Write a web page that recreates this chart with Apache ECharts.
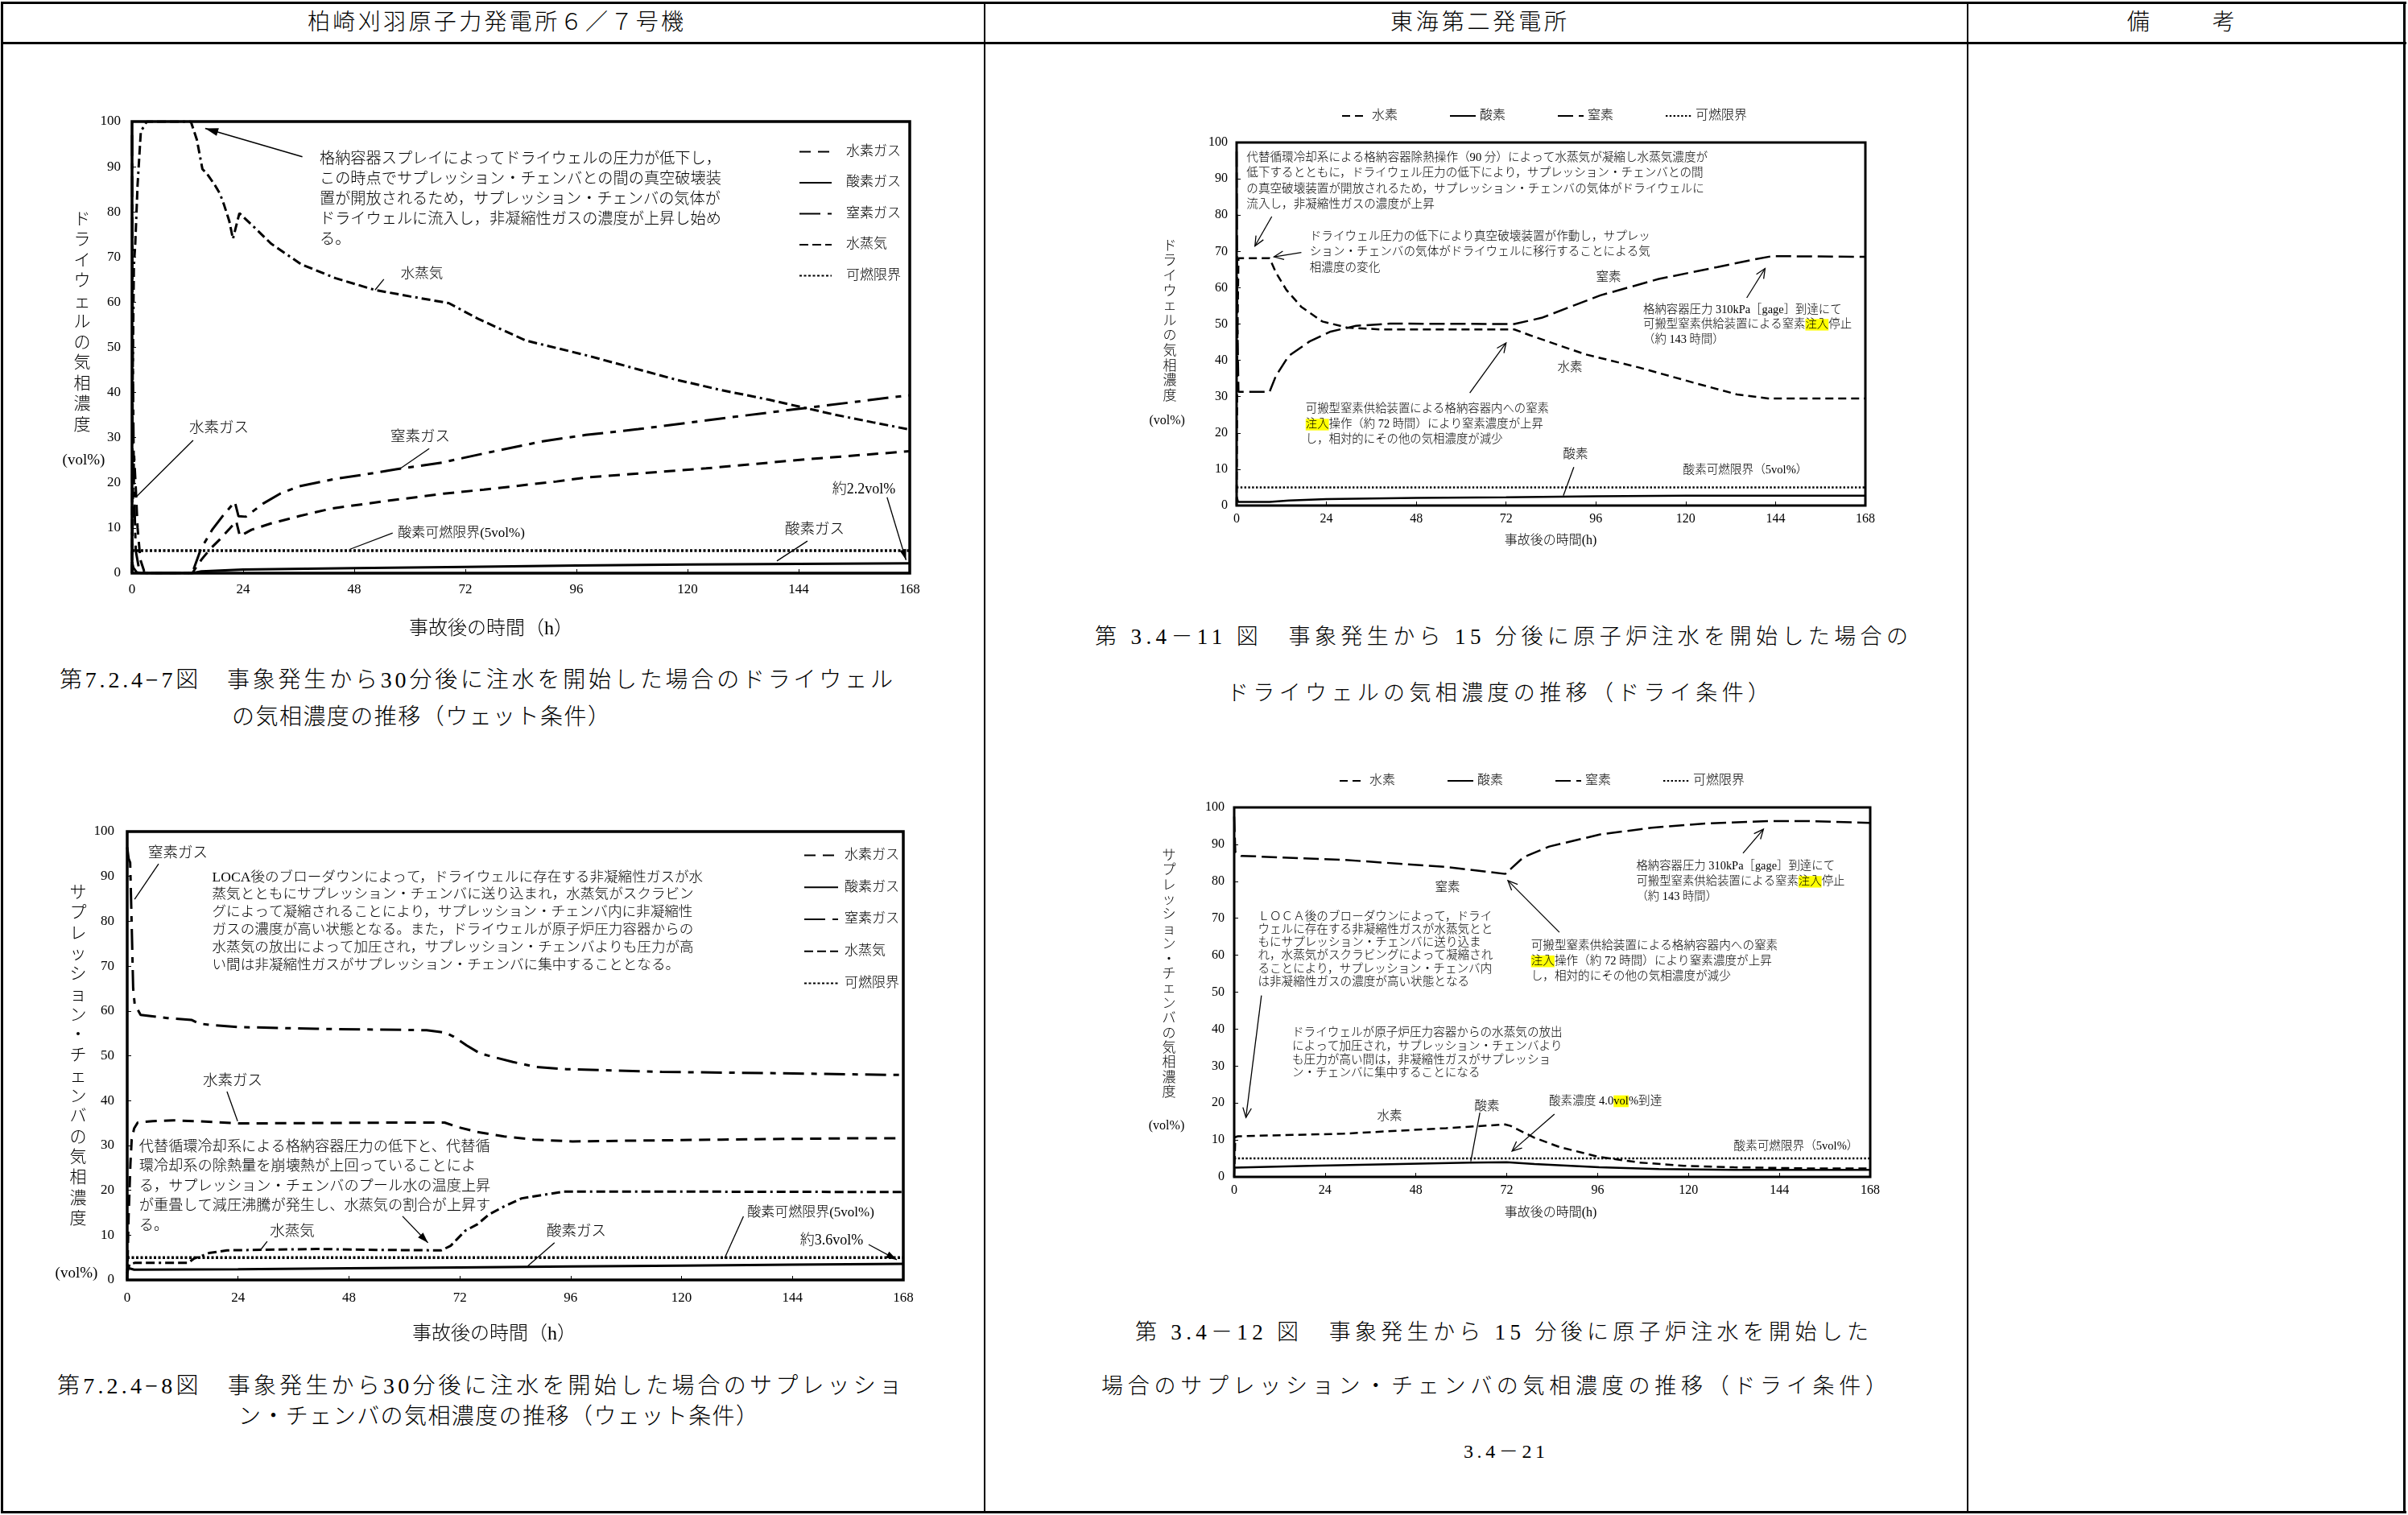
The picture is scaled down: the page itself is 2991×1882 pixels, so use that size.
<!DOCTYPE html>
<html lang="ja">
<head>
<meta charset="utf-8">
<title>ドライウェル及びサプレッション・チェンバの気相濃度の推移</title>
<script src="https://cdn.jsdelivr.net/npm/echarts@6/dist/echarts.min.js"></script>
<style>
  html, body { margin: 0; padding: 0; background: #fff; }
  #page { position: relative; width: 2991px; height: 1882px; overflow: hidden; color: #000;
          font-family: 'Liberation Serif', 'Noto Sans CJK JP', serif; }
  .layer { position: absolute; left: 0; top: 0; width: 2991px; height: 1882px; }
  .rule { position: absolute; background: #000; }
  .txt { position: absolute; white-space: nowrap; line-height: 1; transform: translateY(-50%); font-weight: 300; }
</style>
</head>
<body>
<div id="page">
  <div id="sheet" class="layer"></div>
  <div class="layer" id="chartA"></div>
  <div class="layer" id="chartB"></div>
  <div class="layer" id="chartC"></div>
  <div class="layer" id="chartD"></div>
</div>
<script>
// ---- axes ----
const HOUR_TICKS = [0, 24, 48, 72, 96, 120, 144, 168];
const PERCENT_TICKS = [0, 10, 20, 30, 40, 50, 60, 70, 80, 90, 100];
const FLAMMABLE_LIMIT = 5; // 酸素可燃限界 (vol%)

// ---- 柏崎刈羽6/7号機 ドライウェル（ウェット条件） [h, vol%] ----
const kkDwH2 = [[0,0],[0.2,18],[0.45,26],[0.8,19],[1.2,10],[1.8,3],[2.6,0.5],[4,0],[13,0],[15,3],[17,5.5],[19,7.5],[21.2,10],[22.5,11.5],[23.3,8.2],[25.8,9.6],[30,11],[36,12.6],[43,14.3],[55,16],[67.3,17.6],[76,18.5],[91.7,20.3],[98.3,21.2],[116,22.6],[124,23.2],[146.6,25.3],[158,26.2],[168,27]];
const kkDwO2 = [[0,2.5],[0.3,1.2],[1,0.2],[2,0],[13,0],[15,0.4],[24,0.8],[48,1.1],[72,1.4],[96,1.7],[120,1.9],[144,2.05],[168,2.2]];
const kkDwN2 = [[0,97],[0.15,50],[0.4,20],[0.8,5],[1.5,1],[3,0],[13,0],[14.9,5.4],[17.3,9.6],[19.7,12.8],[22.2,15.8],[23,12.6],[24.6,12.5],[28.3,15.4],[32,17.6],[36,19.2],[44,20.9],[50,21.8],[57,23],[67,24.5],[76,26.5],[88.7,29.2],[98,30.6],[109.4,31.9],[129.2,34.5],[143.4,36.3],[164.6,39],[168,39.4]];
const kkDwSteam = [[0,0],[0.15,45],[0.4,68],[0.7,73],[1.2,86],[1.9,97.8],[3.2,100],[12.7,100],[14,96],[15.2,89.5],[16.5,88],[17.9,85.9],[19,84],[19.8,81.8],[21,78],[21.8,74],[22.4,76.5],[23.2,79.7],[26,77],[30,73],[36.5,68.4],[44,65.3],[52.5,62.7],[60,61.3],[68.4,59.8],[75,56.2],[85.1,51.5],[98.3,48.2],[108,45.5],[117.7,42.8],[127,40.6],[137.6,38.4],[151.8,35.1],[160,33.4],[168,31.8]];

// ---- 柏崎刈羽6/7号機 サプレッション・チェンバ（ウェット条件） ----
const kkScH2 = [[0,0],[0.3,14],[0.7,26],[0.97,31.3],[1.5,33.8],[2.27,35.1],[5.5,35.4],[10,35.6],[15.2,35.4],[24.2,34.9],[41,35],[60.3,35.1],[68.7,35.1],[71.9,34],[75.8,33],[81.6,32],[88,31.3],[96.4,30.9],[128.6,31.3],[157.6,31.6],[168,31.6]];
const kkScO2 = [[0,3.5],[0.4,2.6],[1.5,2.3],[24,2.4],[48,2.6],[72,2.8],[96,3.0],[120,3.2],[144,3.4],[168,3.6]];
const kkScN2 = [[0,96.5],[0.3,94],[0.64,93.1],[1.0,78],[1.29,65],[1.62,61.5],[2.9,59.1],[8.7,58.4],[13.9,58],[15.5,57.2],[17.7,56.9],[24.2,56.4],[41,56],[64.8,55.7],[68.7,55.2],[70.6,54.3],[73.5,52.3],[76.4,50.5],[83.5,48.6],[88.6,47.5],[95.1,47],[115.7,46.4],[141.5,46.1],[168,45.7]];
const kkScSteam = [[0,1.5],[0.5,3.5],[1.6,3.8],[13.2,3.8],[14.5,4.8],[16.5,5.5],[17.7,6],[21.6,6.6],[41,6.9],[53.9,6.7],[68,6.6],[70,7.6],[73.2,11],[75.8,12.4],[78.3,14.6],[81.6,16.4],[85.4,18.2],[89.6,18.9],[94.4,19.7],[120,19.7],[168,19.6]];

// ---- 東海第二 ドライウェル（ドライ条件） ----
const tkDwH2 = [[0,0],[0.2,45],[0.5,68.1],[8.8,68.1],[10.5,64.2],[13.3,59.4],[17.3,54.7],[22.9,50.7],[29.6,49],[38.6,48.5],[74.2,48.5],[78.4,46.9],[93,41.7],[107.6,38],[123.3,33.5],[133.7,30.6],[142,29.5],[168,29.5]];
const tkDwO2 = [[0,2.5],[0.4,1.0],[8.8,1.0],[14,1.4],[24,1.8],[48,2.1],[72,2.3],[96,2.55],[120,2.7],[168,2.7]];
const tkDwN2 = [[0,97.5],[0.2,52],[0.5,31.3],[8.8,31.3],[10.5,35.7],[13.9,41.2],[19.5,45.2],[25.1,47.9],[31.9,49.5],[40.9,50.1],[74.2,50],[81.5,51.7],[97.2,57.9],[112.8,62.4],[128.5,65.7],[138.9,67.9],[143.1,68.7],[168,68.5]];

// ---- 東海第二 サプレッション・チェンバ（ドライ条件） ----
const tkScH2 = [[0,0],[0.3,10.8],[1,11],[28.9,11.7],[56,13.2],[71.5,14.2],[73,13.8],[79.3,10.6],[85.9,8.1],[96.4,5.4],[107,3.9],[118.8,3.0],[132,2.6],[151.7,2.3],[168,2.3]];
const tkScO2 = [[0,2.5],[0.3,2.4],[20,3.0],[46.4,3.55],[62.2,3.85],[72,4.0],[79.3,3.5],[96.4,2.6],[112.2,2.1],[132,1.9],[168,1.9]];
const tkScN2 = [[0,97.5],[0.3,88],[1.8,86.9],[28.9,85.8],[56,83.9],[71.6,82],[72,81.9],[76.4,86.5],[83.2,89.4],[96.7,92.7],[110.3,94.5],[123.8,95.6],[141.5,96.3],[151,96.3],[168,95.8]];

const limitLine = [[HOUR_TICKS[0], FLAMMABLE_LIMIT], [HOUR_TICKS[HOUR_TICKS.length - 1], FLAMMABLE_LIMIT]];

// ---- styles ----
const FONT = "'Liberation Serif', 'Noto Sans CJK JP', serif";
const WET = {
  h2:    { width: 3, type: [14, 9] },
  o2:    { width: 3, type: 'solid' },
  n2:    { width: 3, type: [26, 9, 7, 9] },
  steam: { width: 3, type: [11, 5, 11, 5, 11, 5, 3, 5] },
  limit: { width: 3.5, type: [3, 2.5] }
};
const DRY = {
  h2:    { width: 2.5, type: [10, 6] },
  o2:    { width: 2.5, type: 'solid' },
  n2:    { width: 2.5, type: [19, 7] },
  limit: { width: 2.5, type: [2.4, 2.4] }
};

// ---- page frame and captions ----
const sheet = document.getElementById('sheet');
function rule(x, y, w, h) {
  const d = document.createElement('div');
  d.className = 'rule';
  Object.assign(d.style, { left: x + 'px', top: y + 'px', width: w + 'px', height: h + 'px' });
  sheet.appendChild(d);
}
function line(text, x0, x1, yc, size) {
  const d = document.createElement('div');
  d.className = 'txt';
  d.textContent = text;
  d.style.fontSize = size + 'px';
  d.style.left = x0 + 'px';
  d.style.top = yc + 'px';
  sheet.appendChild(d);
  const w = d.getBoundingClientRect().width;
  const n = [...text].length;
  if (n > 1) d.style.letterSpacing = ((x1 - x0 - w) / (n - 1)) + 'px';
}
rule(1, 2, 2988, 3);
rule(1, 52, 2988, 3);
rule(1, 1877, 2988, 3);
rule(1, 2, 3, 1878);
rule(2985, 2, 3, 1878);
rule(1222, 2, 2, 1878);
rule(2443, 2, 2, 1878);

line('柏崎刈羽原子力発電所６／７号機', 382, 849, 28, 28);
line('東海第二発電所', 1727, 1946, 28, 28);
line('備　　考', 2642, 2776, 28, 28);

line('第7.2.4−7図　事象発生から30分後に注水を開始した場合のドライウェル', 74, 1109, 845, 28);
line('の気相濃度の推移（ウェット条件）', 288, 758, 891, 28);
line('第7.2.4−8図　事象発生から30分後に注水を開始した場合のサプレッショ', 71, 1120, 1722, 28);
line('ン・チェンバの気相濃度の推移（ウェット条件）', 296, 942, 1760, 28);
line('第 3.4－11 図　事象発生から 15 分後に原子炉注水を開始した場合の', 1360, 2370, 791, 27);
line('ドライウェルの気相濃度の推移（ドライ条件）', 1524, 2198, 861, 27);
line('第 3.4－12 図　事象発生から 15 分後に原子炉注水を開始した', 1410, 2321, 1655, 27);
line('場合のサプレッション・チェンバの気相濃度の推移（ドライ条件）', 1368, 2344, 1722, 27);
line('3.4－21', 1818, 1919, 1803, 24);

// ---- chart helpers ----
function txt(x, yc, lines, size, o) {
  o = o || {};
  const lh = o.lh || Math.round(size * 1.2);
  const arr = Array.isArray(lines) ? lines : [lines];
  const style = {
    text: arr.join('\n'), fontSize: size, fontFamily: FONT, fontWeight: 300, fill: '#000',
    align: o.align || 'left', verticalAlign: 'top', lineHeight: lh
  };
  if (o.hl) {
    style.rich = { hl: { backgroundColor: '#ffff00', fill: '#000', fontSize: size, fontFamily: FONT, fontWeight: 300, lineHeight: lh } };
  }
  return { type: 'text', silent: true, z: 15, x: x, y: yc - lh / 2, style: style };
}
function vtitle(x, firstCenter, text, size, step) {
  return txt(x, firstCenter, [...text], size, { align: 'center', lh: step });
}
function arrowEls(chart, list) {
  const els = [];
  list.forEach(a => {
    const p = chart.convertToPixel({ gridIndex: 0 }, a.from);
    const q = chart.convertToPixel({ gridIndex: 0 }, a.to);
    const w = a.w || 1.3;
    els.push({ type: 'line', silent: true, z: 20,
      shape: { x1: p[0], y1: p[1], x2: q[0], y2: q[1] }, style: { stroke: '#000', lineWidth: w } });
    if (a.head) {
      const ang = Math.atan2(q[1] - p[1], q[0] - p[0]);
      const L = a.len || 13, s = a.spread || 0.42;
      const l = [q[0] - L * Math.cos(ang - s), q[1] - L * Math.sin(ang - s)];
      const r = [q[0] - L * Math.cos(ang + s), q[1] - L * Math.sin(ang + s)];
      if (a.head === 'fill') {
        els.push({ type: 'polygon', silent: true, z: 20, shape: { points: [q, l, r] }, style: { fill: '#000' } });
      } else {
        els.push({ type: 'polyline', silent: true, z: 20, shape: { points: [l, q, r] },
          style: { stroke: '#000', lineWidth: w, fill: 'none' } });
      }
    }
  });
  return els;
}
function build(spec) {
  const chart = echarts.init(document.getElementById(spec.el));
  const axis = (ticks, margin) => ({
    type: 'value', min: ticks[0], max: ticks[ticks.length - 1], interval: ticks[1] - ticks[0],
    axisLine: { show: false },
    axisTick: { show: true, inside: true, length: 5, lineStyle: { color: '#000', width: 1 } },
    axisLabel: { color: '#000', fontSize: spec.tickFont, fontFamily: FONT, margin: margin },
    splitLine: { show: false }
  });
  const lg = spec.legend;
  chart.setOption({
    animation: false,
    grid: Object.assign({ show: true, borderColor: '#000', borderWidth: spec.border,
      backgroundColor: 'rgba(0,0,0,0)', containLabel: false, outerBoundsMode: 'none' }, spec.grid),
    xAxis: axis(HOUR_TICKS, spec.xMargin),
    yAxis: axis(PERCENT_TICKS, spec.yMargin),
    legend: {
      show: true, orient: lg.orient, left: lg.left, top: lg.top, itemWidth: lg.itemWidth, itemHeight: 16,
      itemGap: lg.itemGap, selectedMode: false, padding: 0,
      itemStyle: { opacity: 0, borderWidth: 0, color: 'rgba(0,0,0,0)' },
      data: spec.series.map(s => s[0]),
      textStyle: { color: '#000', fontSize: lg.fontSize, fontFamily: FONT, fontWeight: 300, lineHeight: 16, padding: [0, 0, 0, lg.pad || 0] }
    },
    series: spec.series.map(([name, data, ls]) => ({
      type: 'line', name: name, data: data, symbol: 'none', showSymbol: false, silent: true,
      lineStyle: { color: '#000', width: ls.width, type: ls.type, cap: 'butt' },
      itemStyle: { color: '#000' }
    })),
    graphic: { elements: spec.texts }
  });
  chart.setOption({ graphic: { elements: spec.texts.concat(arrowEls(chart, spec.arrows)) } });
}

const INJECT = ['可搬型窒素供給装置による格納容器内への窒素', '{hl|注入}操作（約 72 時間）により窒素濃度が上昇', 'し，相対的にその他の気相濃度が減少'];
const STOP = ['格納容器圧力 310kPa［gage］到達にて', '可搬型窒素供給装置による窒素{hl|注入}停止', '（約 143 時間）'];

// ---- 第7.2.4-7図 ----
build({
  el: 'chartA', grid: { left: 164, top: 151, width: 966, height: 561 }, border: 3.5,
  tickFont: 17, xMargin: 12, yMargin: 14,
  series: [['水素ガス', kkDwH2, WET.h2], ['酸素ガス', kkDwO2, WET.o2], ['窒素ガス', kkDwN2, WET.n2],
           ['水蒸気', kkDwSteam, WET.steam], ['可燃限界', limitLine, WET.limit]],
  legend: { orient: 'vertical', left: 992, top: 180, itemWidth: 40, itemGap: 21.5, fontSize: 17, pad: 13 },
  texts: [
    txt(397, 198.3, ['格納容器スプレイによってドライウェルの圧力が低下し，',
                     'この時点でサプレッション・チェンバとの間の真空破壊装',
                     '置が開放されるため，サプレッション・チェンバの気体が',
                     'ドライウェルに流入し，非凝縮性ガスの濃度が上昇し始め',
                     'る。'], 19.2, { lh: 25 }),
    txt(524, 340, '水蒸気', 17.5, { align: 'center' }),
    txt(272, 532, '水素ガス', 18.5, { align: 'center' }),
    txt(522, 543, '窒素ガス', 18.5, { align: 'center' }),
    txt(573, 663, '酸素可燃限界(5vol%)', 17, { align: 'center' }),
    txt(1012, 658, '酸素ガス', 18.5, { align: 'center' }),
    txt(1073, 608, '約2.2vol%', 18, { align: 'center' }),
    txt(610, 782, '事故後の時間（h）', 24, { align: 'center' }),
    vtitle(102, 273, 'ドライウェルの気相濃度', 21, 25.5),
    txt(104, 572, '(vol%)', 19, { align: 'center' })
  ],
  arrows: [
    { from: [36.8, 92.2], to: [15.8, 98.5], head: 'fill', len: 17, spread: 0.3, w: 1.5 },
    { from: [54.4, 65.1], to: [52.5, 62.7] },
    { from: [13.2, 29.4], to: [0.9, 16.9] },
    { from: [64.2, 27.6], to: [57.7, 23.0] },
    { from: [56.3, 8.9], to: [47.1, 5.3] },
    { from: [145.9, 7.1], to: [139.3, 2.7] },
    { from: [163.1, 16.8], to: [167.2, 2.9], head: 'fill', len: 14, spread: 0.3 }
  ]
});

// ---- 第7.2.4-8図 ----
build({
  el: 'chartC', grid: { left: 158, top: 1033, width: 964, height: 557 }, border: 3.5,
  tickFont: 17, xMargin: 14, yMargin: 16,
  series: [['水素ガス', kkScH2, WET.h2], ['酸素ガス', kkScO2, WET.o2], ['窒素ガス', kkScN2, WET.n2],
           ['水蒸気', kkScSteam, WET.steam], ['可燃限界', limitLine, WET.limit]],
  legend: { orient: 'vertical', left: 998, top: 1054, itemWidth: 42, itemGap: 22.75, fontSize: 17, pad: 3 },
  texts: [
    txt(263.5, 1090, ['LOCA後のブローダウンによって，ドライウェルに存在する非凝縮性ガスが水',
                      '蒸気とともにサプレッション・チェンバに送り込まれ，水蒸気がスクラビン',
                      'グによって凝縮されることにより，サプレッション・チェンバ内に非凝縮性',
                      'ガスの濃度が高い状態となる。また，ドライウェルが原子炉圧力容器からの',
                      '水蒸気の放出によって加圧され，サプレッション・チェンバよりも圧力が高',
                      'い間は非凝縮性ガスがサプレッション・チェンバに集中することとなる。'], 17.6, { lh: 21.8 }),
    txt(172.8, 1425, ['代替循環冷却系による格納容器圧力の低下と、代替循',
                      '環冷却系の除熱量を崩壊熱が上回っていることによ',
                      'る，サプレッション・チェンバのプール水の温度上昇',
                      'が重畳して減圧沸騰が発生し、水蒸気の割合が上昇す',
                      'る。'], 18.2, { lh: 24.5 }),
    txt(221, 1060, '窒素ガス', 18.5, { align: 'center' }),
    txt(289, 1343, '水素ガス', 18.5, { align: 'center' }),
    txt(363, 1530, '水蒸気', 18.5, { align: 'center' }),
    txt(716, 1530, '酸素ガス', 18.5, { align: 'center' }),
    txt(1007, 1507, '酸素可燃限界(5vol%)', 17, { align: 'center' }),
    txt(1033, 1541, '約3.6vol%', 18, { align: 'center' }),
    txt(614, 1658, '事故後の時間（h）', 24, { align: 'center' }),
    vtitle(97, 1109.5, 'サプレッション・チェンバの気相濃度', 21, 25.3),
    txt(95, 1582, '(vol%)', 19, { align: 'center' })
  ],
  arrows: [
    { from: [6.8, 92.8], to: [1.6, 84.9] },
    { from: [21.6, 42.0], to: [23.9, 35.4] },
    { from: [59.6, 14.2], to: [65.1, 8.3], head: 'fill', len: 14, spread: 0.32 },
    { from: [30.3, 8.6], to: [28.8, 6.6] },
    { from: [92.5, 8.3], to: [86.7, 3.1] },
    { from: [133.4, 14.2], to: [129.3, 4.8] },
    { from: [160.5, 7.9], to: [166.6, 4.5], head: 'fill', len: 14, spread: 0.32 }
  ]
});

// ---- 第3.4-11図 ----
build({
  el: 'chartB', grid: { left: 1536, top: 177, width: 781, height: 451 }, border: 3,
  tickFont: 16, xMargin: 9, yMargin: 11,
  series: [['水素', tkDwH2, DRY.h2], ['酸素', tkDwO2, DRY.o2], ['窒素', tkDwN2, DRY.n2], ['可燃限界', limitLine, DRY.limit]],
  legend: { orient: 'horizontal', left: 1666, top: 136, itemWidth: 32, itemGap: 64, fontSize: 16 },
  texts: [
    txt(1548.3, 195.7, ['代替循環冷却系による格納容器除熱操作（90 分）によって水蒸気が凝縮し水蒸気濃度が',
                        '低下するとともに，ドライウェル圧力の低下により，サプレッション・チェンバとの間',
                        'の真空破壊装置が開放されるため，サプレッション・チェンバの気体がドライウェルに',
                        '流入し，非凝縮性ガスの濃度が上昇'], 14.6, { lh: 19.6 }),
    txt(1626.7, 294, ['ドライウェル圧力の低下により真空破壊装置が作動し，サプレッ',
                      'ション・チェンバの気体がドライウェルに移行することによる気',
                      '相濃度の変化'], 14.6, { lh: 19.6 }),
    txt(1998, 345, '窒素', 15.5, { align: 'center' }),
    txt(1950, 457, '水素', 15.5, { align: 'center' }),
    txt(1621.8, 508.3, INJECT, 14.4, { lh: 19.2, hl: true }),
    txt(2041, 385, STOP, 14.4, { lh: 18.4, hl: true }),
    txt(1957, 565, '酸素', 15.5, { align: 'center' }),
    txt(2168, 584, '酸素可燃限界（5vol%）', 14.6, { align: 'center' }),
    txt(1926, 671.7, '事故後の時間(h)', 16, { align: 'center' }),
    vtitle(1453, 306.4, 'ドライウェルの気相濃度', 17, 18.6),
    txt(1449.6, 522.5, '(vol%)', 16, { align: 'center' })
  ],
  arrows: [
    { from: [9.4, 79.6], to: [4.9, 71.5], head: 'v' },
    { from: [17.3, 69.7], to: [10.0, 68.5], head: 'v' },
    { from: [62.3, 31.0], to: [72.0, 44.8], head: 'v' },
    { from: [136.3, 57.2], to: [141.2, 65.3], head: 'v' },
    { from: [90.1, 10.6], to: [87.3, 2.7] }
  ]
});

// ---- 第3.4-12図 ----
build({
  el: 'chartD', grid: { left: 1533, top: 1003, width: 790, height: 459 }, border: 3,
  tickFont: 16, xMargin: 9, yMargin: 12,
  series: [['水素', tkScH2, DRY.h2], ['酸素', tkScO2, DRY.o2], ['窒素', tkScN2, DRY.n2], ['可燃限界', limitLine, DRY.limit]],
  legend: { orient: 'horizontal', left: 1663, top: 962, itemWidth: 32, itemGap: 64, fontSize: 16 },
  texts: [
    txt(1798, 1103, '窒素', 15.5, { align: 'center' }),
    txt(2032.4, 1076.7, STOP, 14.4, { lh: 18.7, hl: true }),
    txt(1901.7, 1175, INJECT, 14.6, { lh: 19.2, hl: true }),
    txt(1562.4, 1139, ['ＬＯＣＡ後のブローダウンによって，ドライ',
                       'ウェルに存在する非凝縮性ガスが水蒸気とと',
                       'もにサプレッション・チェンバに送り込ま',
                       'れ，水蒸気がスクラビングによって凝縮され',
                       'ることにより，サプレッション・チェンバ内',
                       'は非凝縮性ガスの濃度が高い状態となる'], 14.6, { lh: 16.2 }),
    txt(1605, 1283.3, ['ドライウェルが原子炉圧力容器からの水蒸気の放出',
                       'によって加圧され，サプレッション・チェンバより',
                       'も圧力が高い間は，非凝縮性ガスがサプレッショ',
                       'ン・チェンバに集中することになる'], 14.6, { lh: 16.7 }),
    txt(1726, 1387, '水素', 15.5, { align: 'center' }),
    txt(1847, 1375, '酸素', 15.5, { align: 'center' }),
    txt(1924, 1368, '酸素濃度 4.0{hl|vol}%到達', 14.6, { hl: true, lh: 19 }),
    txt(2231, 1424, '酸素可燃限界（5vol%）', 14.6, { align: 'center' }),
    txt(1926, 1507, '事故後の時間(h)', 16, { align: 'center' }),
    vtitle(1452, 1063.3, 'サプレッション・チェンバの気相濃度', 17, 18.4),
    txt(1449, 1398.3, '(vol%)', 16, { align: 'center' })
  ],
  arrows: [
    { from: [134.4, 87.6], to: [139.8, 94.1], head: 'v' },
    { from: [85.9, 66.2], to: [72.3, 80.2], head: 'v' },
    { from: [7.2, 49.1], to: [3.1, 16.1], head: 'v' },
    { from: [64.9, 17.4], to: [62.5, 4.2] },
    { from: [84.6, 17.0], to: [73.4, 7.0], head: 'v' }
  ]
});
</script>
</body>
</html>
